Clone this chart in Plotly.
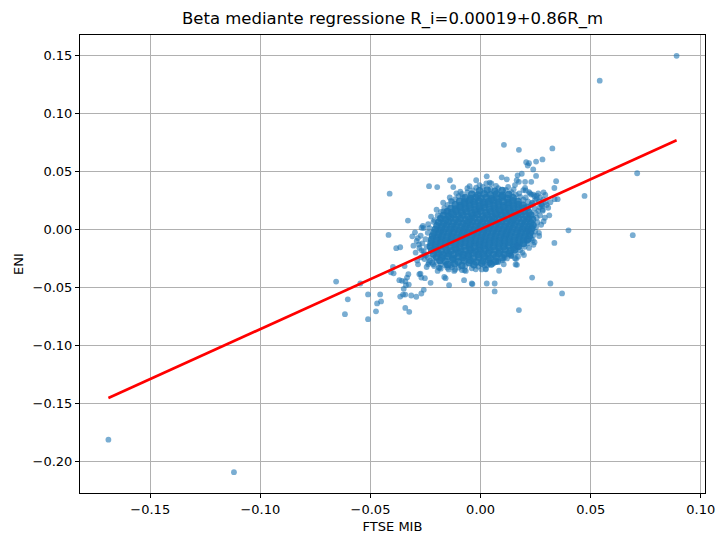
import plotly.graph_objects as go

# ---------------- data ----------------
# sparse / outlying daily returns (FTSE MIB, ENI)
sparse_ftse = [-0.1690, -0.1120, 0.0890, 0.0541, 0.0711, 0.0691, 0.0472, 0.0399, 0.0370, 0.0317,
               0.0234, 0.0174, 0.0064, 0.0064, 0.0028, -0.0040, -0.0656, -0.0546, -0.0603, -0.0511,
               -0.0616, -0.0511, -0.0456, -0.0452, -0.0470, -0.0475, -0.0342, -0.0324, -0.0365, -0.0342,
               -0.0352, -0.0315, -0.0292, -0.0269, -0.0258, -0.0349, -0.0339, -0.0326, -0.0342, -0.0357,
               -0.0369, -0.0334, -0.0328, -0.0398, -0.0407, -0.0395, -0.0345, -0.0273, -0.0269, -0.0253,
               -0.0227, -0.0284, -0.0278, -0.0238, -0.0220, -0.0159, -0.0143, -0.0075, -0.0037, -0.0195,
               -0.0186, -0.0151, -0.0120, -0.0067, -0.0022, 0.0024, 0.0084, 0.0041, 0.0023, 0.0018,
               0.0110, 0.0138, 0.0080, 0.0165, 0.0161, 0.0197, 0.0138, 0.0171, 0.0210, 0.0240,
               0.0266, 0.0335, 0.0217, -0.0383, -0.0365, -0.0418, -0.0298, -0.0330, -0.0258, -0.0232,
               -0.0268, -0.0214, -0.0413, -0.0234, -0.0197, -0.0139, -0.0124, -0.0050, -0.0020, 0.0028,
               0.0096, 0.0119, 0.0106, 0.0174, 0.0326, 0.0207, 0.0220, 0.0252, 0.0281, 0.0214,
               0.0239, 0.0187, 0.0168, 0.0252, 0.0041, 0.0049, 0.0026, 0.0164, 0.0174, 0.0202,
               0.0230, 0.0156, 0.0202, 0.0194, 0.0343, 0.0335, 0.0286, 0.0294, 0.0350, 0.0336,
               0.0317, 0.0278, 0.0307, 0.0282, 0.0312, 0.0286, 0.0248, 0.0233, 0.0225, -0.0200,
               -0.0168, -0.0150, -0.0135, -0.0092, -0.0081, -0.0288, -0.0245, -0.0211, -0.0181, -0.0165,
               -0.0135, -0.0116, -0.0073, 0.0040, 0.0156, 0.0159, 0.0164, 0.0237]
sparse_eni = [-0.1810, -0.2090, 0.1494, 0.1280, 0.0483, -0.0050, 0.0288, -0.0008, -0.0551, -0.0466,
              -0.0415, -0.0695, -0.0534, -0.0466, -0.0466, -0.0466, -0.0449, -0.0466, -0.0602, -0.0560,
              -0.0730, -0.0773, -0.0560, -0.0620, -0.0637, -0.0705, -0.0676, -0.0710, -0.0578, -0.0561,
              -0.0561, -0.0569, -0.0580, -0.0552, -0.0520, -0.0512, -0.0480, -0.0475, -0.0446, -0.0443,
              -0.0437, -0.0415, -0.0386, -0.0324, -0.0369, -0.0378, -0.0316, -0.0381, -0.0415, -0.0420,
              -0.0460, -0.0301, -0.0386, -0.0301, -0.0287, -0.0420, -0.0480, -0.0437, -0.0471, -0.0358,
              -0.0330, -0.0330, -0.0358, -0.0358, -0.0344, -0.0344, -0.0356, -0.0288, -0.0339, -0.0311,
              -0.0240, -0.0226, -0.0282, -0.0305, -0.0255, -0.0221, -0.0221, -0.0150, -0.0100, -0.0133,
              -0.0057, -0.0117, -0.0014, -0.0162, -0.0154, -0.0048, -0.0025, 0.0076, 0.0011, 0.0011,
              0.0014, 0.0065, 0.0307, 0.0372, 0.0364, 0.0423, 0.0364, 0.0372, 0.0423, 0.0457,
              0.0448, 0.0431, 0.0728, 0.0685, 0.0697, 0.0578, 0.0570, 0.0584, 0.0602, 0.0550,
              0.0516, 0.0479, 0.0465, 0.0460, 0.0403, 0.0395, 0.0395, 0.0423, 0.0409, 0.0409,
              0.0409, 0.0381, 0.0358, 0.0338, 0.0415, 0.0356, 0.0319, 0.0296, 0.0260, 0.0260,
              0.0234, 0.0212, 0.0186, 0.0161, 0.0121, 0.0068, 0.0254, 0.0226, 0.0310, 0.0169,
              0.0155, 0.0161, 0.0245, 0.0324, 0.0279, -0.0268, -0.0324, -0.0316, -0.0338, -0.0409,
              -0.0310, -0.0347, -0.0352, -0.0290, -0.0248, -0.0302, -0.0141, -0.0093]

# medium-density halo around the core
halo_ftse = [
    -0.0265, -0.0250, -0.0272, -0.0245, -0.0258, -0.0240, -0.0262, -0.0248, -0.0278, -0.0290, -0.0305, -0.0238, -0.0295, -0.0310, -0.0255,
    -0.0210, -0.0195, -0.0180, -0.0165, -0.0150, -0.0130, -0.0115, -0.0100, -0.0085, -0.0060, -0.0035, -0.0185, -0.0170, -0.0140, -0.0110, -0.0225, -0.0060, -0.0020,
    0.0010, 0.0045, 0.0080, 0.0115, 0.0140, 0.0160, 0.0180, 0.0195, 0.0070, 0.0125, 0.0150, 0.0175, 0.0205, 0.0215, -0.0005,
    0.0230, 0.0245, 0.0250, 0.0255, 0.0258, 0.0252, 0.0248, 0.0240, 0.0262, 0.0270, 0.0275, 0.0265, 0.0280, 0.0292, 0.0235,
    0.0230, 0.0215, 0.0200, 0.0180, 0.0160, 0.0140, 0.0120, 0.0100, 0.0080, 0.0060, 0.0190, 0.0170, 0.0105, 0.0220, 0.0245,
    -0.0180, -0.0160, -0.0130, -0.0100, -0.0070, -0.0040, -0.0010, 0.0030, -0.0200, -0.0215, -0.0085, -0.0145, 0.0005, -0.0230, -0.0190,
    0.0255, 0.0265, 0.0275, 0.0268, 0.0282, 0.0245, 0.0230,
    0.0240, 0.0255, 0.0270, 0.0285, 0.0295, 0.0300, 0.0262, 0.0220, 0.0205,
    -0.0240, -0.0255, -0.0268, -0.0280, -0.0235, -0.0215, -0.0270, -0.0285,
]
halo_eni = [
    -0.0120, -0.0085, -0.0055, -0.0150, -0.0190, -0.0030, 0.0030, -0.0225, -0.0160, -0.0100, -0.0140, 0.0045, -0.0200, -0.0060, -0.0255,
    0.0080, 0.0120, 0.0150, 0.0185, 0.0210, 0.0240, 0.0260, 0.0285, 0.0305, 0.0320, 0.0335, 0.0100, 0.0230, 0.0275, 0.0310, 0.0110, 0.0355, 0.0360,
    0.0365, 0.0350, 0.0355, 0.0340, 0.0320, 0.0300, 0.0280, 0.0255, 0.0375, 0.0365, 0.0345, 0.0310, 0.0275, 0.0240, 0.0380,
    0.0210, 0.0180, 0.0140, 0.0100, 0.0060, 0.0020, -0.0020, -0.0050, 0.0160, 0.0120, 0.0040, -0.0030, 0.0200, 0.0100, 0.0230,
    -0.0080, -0.0120, -0.0150, -0.0180, -0.0205, -0.0230, -0.0250, -0.0265, -0.0275, -0.0290, -0.0200, -0.0235, -0.0300, -0.0160, -0.0110,
    -0.0300, -0.0310, -0.0325, -0.0330, -0.0320, -0.0335, -0.0320, -0.0310, -0.0280, -0.0250, -0.0350, -0.0345, -0.0345, -0.0270, -0.0330,
    0.0265, 0.0240, 0.0215, 0.0190, 0.0170, 0.0285, 0.0300,
    0.0300, 0.0290, 0.0275, 0.0255, 0.0235, 0.0210, 0.0310, 0.0320, 0.0335,
    -0.0240, -0.0215, -0.0180, -0.0130, -0.0285, -0.0300, -0.0240, -0.0075,
]

# dense core of the cloud (read row by row)
core_ftse = [
    -0.0150, -0.0118, -0.0085, -0.0052, -0.0030, 0.0005, 0.0048,
    -0.0185, -0.0160, -0.0128, -0.0101, -0.0075, -0.0048, -0.0020, 0.0010, 0.0035, 0.0068,
    -0.0200, -0.0176, -0.0150, -0.0125, -0.0102, -0.0080, -0.0055, -0.0032, -0.0008, 0.0018, 0.0042, 0.0070, 0.0098,
    -0.0215, -0.0192, -0.0170, -0.0146, -0.0122, -0.0100, -0.0078, -0.0056, -0.0034, -0.0010, 0.0012, 0.0035, 0.0058, 0.0082, 0.0108, 0.0130,
    -0.0222, -0.0200, -0.0178, -0.0155, -0.0133, -0.0111, -0.0090, -0.0068, -0.0046, -0.0024, -0.0002, 0.0020, 0.0042, 0.0065, 0.0088, 0.0112, 0.0136, 0.0155,
    -0.0228, -0.0205, -0.0183, -0.0160, -0.0138, -0.0116, -0.0094, -0.0072, -0.0050, -0.0028, -0.0006, 0.0016, 0.0038, 0.0060, 0.0083, 0.0106, 0.0128, 0.0150, 0.0172,
    -0.0225, -0.0203, -0.0181, -0.0158, -0.0136, -0.0114, -0.0092, -0.0070, -0.0048, -0.0026, -0.0004, 0.0018, 0.0040, 0.0062, 0.0085, 0.0107, 0.0130, 0.0152, 0.0175, 0.0195,
    -0.0222, -0.0200, -0.0178, -0.0156, -0.0134, -0.0112, -0.0090, -0.0068, -0.0046, -0.0024, -0.0002, 0.0020, 0.0042, 0.0064, 0.0086, 0.0108, 0.0130, 0.0152, 0.0174, 0.0196, 0.0215,
    -0.0218, -0.0196, -0.0174, -0.0152, -0.0130, -0.0108, -0.0086, -0.0064, -0.0042, -0.0020, 0.0002, 0.0024, 0.0046, 0.0068, 0.0090, 0.0112, 0.0134, 0.0156, 0.0178, 0.0200, 0.0222,
    -0.0212, -0.0190, -0.0168, -0.0146, -0.0124, -0.0102, -0.0080, -0.0058, -0.0036, -0.0014, 0.0008, 0.0030, 0.0052, 0.0074, 0.0096, 0.0118, 0.0140, 0.0162, 0.0184, 0.0206, 0.0226,
    -0.0205, -0.0183, -0.0161, -0.0139, -0.0117, -0.0095, -0.0073, -0.0051, -0.0029, -0.0007, 0.0015, 0.0037, 0.0059, 0.0081, 0.0103, 0.0125, 0.0147, 0.0169, 0.0191, 0.0213, 0.0232,
    -0.0198, -0.0176, -0.0154, -0.0132, -0.0110, -0.0088, -0.0066, -0.0044, -0.0022, 0.0000, 0.0022, 0.0044, 0.0066, 0.0088, 0.0110, 0.0132, 0.0154, 0.0176, 0.0198, 0.0220, 0.0238,
    -0.0190, -0.0168, -0.0146, -0.0124, -0.0102, -0.0080, -0.0058, -0.0036, -0.0014, 0.0008, 0.0030, 0.0052, 0.0074, 0.0096, 0.0118, 0.0140, 0.0162, 0.0184, 0.0206, 0.0228,
    -0.0180, -0.0158, -0.0136, -0.0114, -0.0092, -0.0070, -0.0048, -0.0026, -0.0004, 0.0018, 0.0040, 0.0062, 0.0084, 0.0106, 0.0128, 0.0150, 0.0172, 0.0194, 0.0216, 0.0236,
    -0.0168, -0.0146, -0.0124, -0.0102, -0.0080, -0.0058, -0.0036, -0.0014, 0.0008, 0.0030, 0.0052, 0.0074, 0.0096, 0.0118, 0.0140, 0.0162, 0.0184, 0.0206, 0.0228,
    -0.0152, -0.0130, -0.0108, -0.0086, -0.0064, -0.0042, -0.0020, 0.0002, 0.0024, 0.0046, 0.0068, 0.0090, 0.0112, 0.0134, 0.0156, 0.0178, 0.0200, 0.0220,
    -0.0135, -0.0113, -0.0091, -0.0069, -0.0047, -0.0025, -0.0003, 0.0019, 0.0041, 0.0063, 0.0085, 0.0107, 0.0129, 0.0151, 0.0173, 0.0195, 0.0212,
    -0.0115, -0.0093, -0.0071, -0.0049, -0.0027, -0.0005, 0.0017, 0.0039, 0.0061, 0.0083, 0.0105, 0.0127, 0.0149, 0.0171, 0.0193,
    -0.0095, -0.0073, -0.0051, -0.0029, -0.0007, 0.0015, 0.0037, 0.0059, 0.0081, 0.0103, 0.0125, 0.0147, 0.0170,
    -0.0070, -0.0046, -0.0022, 0.0002, 0.0026, 0.0050, 0.0074, 0.0098, 0.0122, 0.0148,
    -0.0040, -0.0012, 0.0016, 0.0044, 0.0072, 0.0100, 0.0128,
    -0.0005, 0.0030, 0.0065, 0.0098,
]
core_eni = [
    -0.0302, -0.0295, -0.0310, -0.0288, -0.0305, -0.0292, -0.0299,
    -0.0268, -0.0275, -0.0262, -0.0278, -0.0270, -0.0265, -0.0280, -0.0272, -0.0262, -0.0275,
    -0.0238, -0.0245, -0.0232, -0.0248, -0.0236, -0.0243, -0.0230, -0.0246, -0.0240, -0.0233, -0.0247, -0.0238, -0.0244,
    -0.0212, -0.0205, -0.0218, -0.0208, -0.0214, -0.0202, -0.0216, -0.0209, -0.0204, -0.0217, -0.0210, -0.0203, -0.0215, -0.0207, -0.0213, -0.0206,
    -0.0182, -0.0175, -0.0188, -0.0178, -0.0185, -0.0172, -0.0186, -0.0179, -0.0174, -0.0187, -0.0180, -0.0173, -0.0184, -0.0177, -0.0186, -0.0176, -0.0183, -0.0175,
    -0.0148, -0.0155, -0.0143, -0.0152, -0.0146, -0.0157, -0.0149, -0.0142, -0.0154, -0.0147, -0.0156, -0.0144, -0.0151, -0.0145, -0.0153, -0.0148, -0.0141, -0.0155, -0.0147,
    -0.0118, -0.0125, -0.0113, -0.0122, -0.0116, -0.0127, -0.0119, -0.0112, -0.0124, -0.0117, -0.0126, -0.0114, -0.0121, -0.0115, -0.0123, -0.0118, -0.0111, -0.0125, -0.0117, -0.0122,
    -0.0088, -0.0095, -0.0083, -0.0092, -0.0086, -0.0097, -0.0089, -0.0082, -0.0094, -0.0087, -0.0096, -0.0084, -0.0091, -0.0085, -0.0093, -0.0088, -0.0081, -0.0095, -0.0087, -0.0092, -0.0084,
    -0.0058, -0.0065, -0.0053, -0.0062, -0.0056, -0.0067, -0.0059, -0.0052, -0.0064, -0.0057, -0.0066, -0.0054, -0.0061, -0.0055, -0.0063, -0.0058, -0.0051, -0.0065, -0.0057, -0.0062, -0.0054,
    -0.0028, -0.0035, -0.0023, -0.0032, -0.0026, -0.0037, -0.0029, -0.0022, -0.0034, -0.0027, -0.0036, -0.0024, -0.0031, -0.0025, -0.0033, -0.0028, -0.0021, -0.0035, -0.0027, -0.0032, -0.0024,
    0.0002, -0.0005, 0.0007, -0.0002, 0.0004, -0.0007, 0.0001, 0.0008, -0.0004, 0.0003, -0.0006, 0.0006, -0.0001, 0.0005, -0.0003, 0.0002, 0.0009, -0.0005, 0.0003, -0.0002, 0.0006,
    0.0032, 0.0025, 0.0037, 0.0028, 0.0034, 0.0023, 0.0031, 0.0038, 0.0026, 0.0033, 0.0024, 0.0036, 0.0029, 0.0035, 0.0027, 0.0032, 0.0039, 0.0025, 0.0033, 0.0028, 0.0036,
    0.0062, 0.0055, 0.0067, 0.0058, 0.0064, 0.0053, 0.0061, 0.0068, 0.0056, 0.0063, 0.0054, 0.0066, 0.0059, 0.0065, 0.0057, 0.0062, 0.0069, 0.0055, 0.0063, 0.0058,
    0.0092, 0.0085, 0.0097, 0.0088, 0.0094, 0.0083, 0.0091, 0.0098, 0.0086, 0.0093, 0.0084, 0.0096, 0.0089, 0.0095, 0.0087, 0.0092, 0.0099, 0.0085, 0.0093, 0.0088,
    0.0122, 0.0115, 0.0127, 0.0118, 0.0124, 0.0113, 0.0121, 0.0128, 0.0116, 0.0123, 0.0114, 0.0126, 0.0119, 0.0125, 0.0117, 0.0122, 0.0129, 0.0115, 0.0123,
    0.0152, 0.0145, 0.0157, 0.0148, 0.0154, 0.0143, 0.0151, 0.0158, 0.0146, 0.0153, 0.0144, 0.0156, 0.0149, 0.0155, 0.0147, 0.0152, 0.0159, 0.0145,
    0.0182, 0.0175, 0.0187, 0.0178, 0.0184, 0.0173, 0.0181, 0.0188, 0.0176, 0.0183, 0.0174, 0.0186, 0.0179, 0.0185, 0.0177, 0.0182, 0.0189,
    0.0212, 0.0205, 0.0217, 0.0208, 0.0214, 0.0203, 0.0211, 0.0218, 0.0206, 0.0213, 0.0204, 0.0216, 0.0209, 0.0215, 0.0207,
    0.0242, 0.0235, 0.0247, 0.0238, 0.0244, 0.0233, 0.0241, 0.0248, 0.0236, 0.0243, 0.0234, 0.0246, 0.0239,
    0.0272, 0.0265, 0.0277, 0.0268, 0.0274, 0.0263, 0.0271, 0.0278, 0.0266, 0.0273,
    0.0302, 0.0295, 0.0307, 0.0298, 0.0304, 0.0293, 0.0301,
    0.0332, 0.0338, 0.0328, 0.0335,
]

# regression coefficients shown in the title
alpha_coef = 0.00019
beta_coef = 0.86

x_ticks = [-0.15, -0.10, -0.05, 0.00, 0.05, 0.10]
x_tick_labels = ["\u22120.15", "\u22120.10", "\u22120.05", "0.00", "0.05", "0.10"]
y_ticks = [-0.20, -0.15, -0.10, -0.05, 0.00, 0.05, 0.10, 0.15]
y_tick_labels = ["\u22120.20", "\u22120.15", "\u22120.10", "\u22120.05", "0.00", "0.05", "0.10", "0.15"]

# ---------------- figure ----------------
outer_ftse = sparse_ftse + halo_ftse
outer_eni = sparse_eni + halo_eni
n_o = min(len(outer_ftse), len(outer_eni))
outer_ftse, outer_eni = outer_ftse[:n_o], outer_eni[:n_o]
n_c = min(len(core_ftse), len(core_eni))
core_x, core_y = core_ftse[:n_c], core_eni[:n_c]

all_x = outer_ftse + core_x
all_y = outer_eni + core_y
x_min, x_max = min(all_x), max(all_x)
y_min, y_max = min(all_y), max(all_y)
xpad = 0.05 * (x_max - x_min)
ypad = 0.05 * (y_max - y_min)
x_range = [x_min - xpad, x_max + xpad]
y_range = [y_min - ypad, y_max + ypad]

blue = "#1f77b4"
grid_col = "#b0b0b0"
font = "DejaVu Sans, Liberation Sans, sans-serif"

fig = go.Figure()
fig.add_trace(go.Scatter(
    x=core_x, y=core_y, mode="markers",
    marker=dict(color=blue, size=7.5, opacity=0.88, line=dict(width=0)),
    showlegend=False, hoverinfo="skip"))
fig.add_trace(go.Scatter(
    x=outer_ftse, y=outer_eni, mode="markers",
    marker=dict(color=blue, size=5.8, opacity=0.6, line=dict(width=0)),
    showlegend=False, hoverinfo="skip"))

line_x = [x_min, x_max]
line_y = [alpha_coef + beta_coef * v for v in line_x]
fig.add_trace(go.Scatter(x=line_x, y=line_y, mode="lines",
                         line=dict(color="red", width=2.6),
                         showlegend=False, hoverinfo="skip"))

axis_common = dict(
    showgrid=True, gridcolor=grid_col, gridwidth=0.9,
    zeroline=False, automargin=False,
    showline=True, linecolor="black", linewidth=1, mirror=True,
    ticks="outside", ticklen=4, tickwidth=1, tickcolor="black",
    tickfont=dict(family=font, size=13, color="black"),
)
fig.update_xaxes(range=x_range, tickvals=x_ticks, ticktext=x_tick_labels,
                 title=dict(text="FTSE MIB", font=dict(family=font, size=13, color="black"), standoff=6),
                 **axis_common)
fig.update_yaxes(range=y_range, tickvals=y_ticks, ticktext=y_tick_labels,
                 title=dict(text="ENI", font=dict(family=font, size=13, color="black"), standoff=6),
                 **axis_common)

fig.update_layout(
    width=722, height=547,
    margin=dict(l=80, r=17, t=35, b=54),
    paper_bgcolor="white", plot_bgcolor="white",
    font=dict(family=font, color="black"),
    title=dict(text="Beta mediante regressione R_i=0.00019+0.86R_m",
               font=dict(family=font, size=16.5, color="black"),
               x=0.5, xref="paper", xanchor="center",
               y=1 - 18 / 547, yref="container", yanchor="middle"),
)

fig.write_html("out.html", config={"displayModeBar": False},
               post_script="document.body.style.margin='0';document.body.style.padding='0';")
